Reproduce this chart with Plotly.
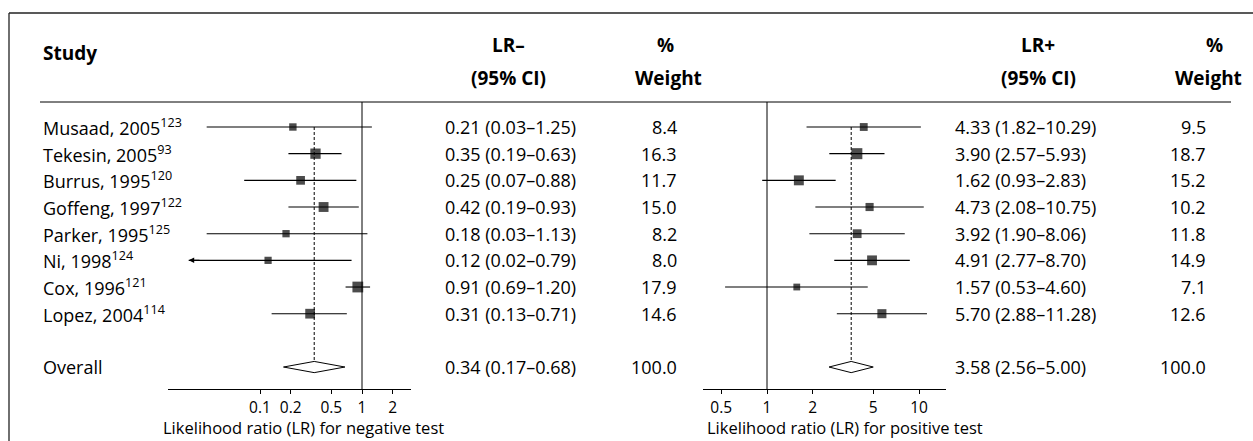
import math
import plotly.graph_objects as go

W, H = 1253, 441

studies = ["Musaad, 2005<sup>123</sup>", "Tekesin, 2005<sup>93</sup>", "Burrus, 1995<sup>120</sup>",
           "Goffeng, 1997<sup>122</sup>", "Parker, 1995<sup>125</sup>", "Ni, 1998<sup>124</sup>",
           "Cox, 1996<sup>121</sup>", "Lopez, 2004<sup>114</sup>"]
overall_label = "Overall"

lrn_est = [0.21, 0.35, 0.25, 0.42, 0.18, 0.12, 0.91, 0.31]
lrn_lo = [0.03, 0.19, 0.07, 0.19, 0.03, 0.02, 0.69, 0.13]
lrn_hi = [1.25, 0.63, 0.88, 0.93, 1.13, 0.79, 1.20, 0.71]
lrn_w = [8.4, 16.3, 11.7, 15.0, 8.2, 8.0, 17.9, 14.6]
lrn_overall = (0.34, 0.17, 0.68, 100.0)

lrp_est = [4.33, 3.90, 1.62, 4.73, 3.92, 4.91, 1.57, 5.70]
lrp_lo = [1.82, 2.57, 0.93, 2.08, 1.90, 2.77, 0.53, 2.88]
lrp_hi = [10.29, 5.93, 2.83, 10.75, 8.06, 8.70, 4.60, 11.28]
lrp_w = [9.5, 18.7, 15.2, 10.2, 11.8, 14.9, 7.1, 12.6]
lrp_overall = (3.58, 2.56, 5.00, 100.0)

neg_ticks = [0.1, 0.2, 0.5, 1, 2]
neg_ticktext = ["0.1", "0.2", "0.5", "1", "2"]
pos_ticks = [0.5, 1, 2, 5, 10]
pos_ticktext = ["0.5", "1", "2", "5", "10"]

FONT = "Open Sans"
FS = 18
FS_HEAD = 19
FS_TICK = 15.5
FS_AX = 16.5

def px(x):
    return x / W

def py(y):
    return 1 - y / H

rows = list(range(len(studies)))
overall_row = len(studies) + 1

fig = go.Figure()

def add_panel(est, lo, hi, wts, overall, xa, ya):
    xs, ys = [], []
    for i, (l, h) in enumerate(zip(lo, hi)):
        xs += [l, h, None]
        ys += [i, i, None]
    fig.add_trace(go.Scatter(x=xs, y=ys, mode="lines", line=dict(color="black", width=1.1),
                             xaxis=xa, yaxis=ya, showlegend=False, hoverinfo="skip"))
    fig.add_trace(go.Scatter(x=[overall[0], overall[0]], y=[0, overall_row + 0.21], mode="lines",
                             line=dict(color="black", width=1, dash="3px,2px"),
                             xaxis=xa, yaxis=ya, showlegend=False, hoverinfo="skip"))
    fig.add_trace(go.Scatter(x=est, y=rows, mode="markers",
                             marker=dict(symbol="square", color="black",
                                         size=[2.55 * math.sqrt(w) for w in wts], line=dict(width=0)),
                             xaxis=xa, yaxis=ya, showlegend=False, hoverinfo="skip"))
    e, l, h, _ = overall
    d = 0.21
    fig.add_trace(go.Scatter(x=[l, e, h, e, l], y=[overall_row, overall_row - d, overall_row, overall_row + d, overall_row],
                             mode="lines", fill="toself", fillcolor="white",
                             line=dict(color="black", width=1),
                             xaxis=xa, yaxis=ya, showlegend=False, hoverinfo="skip"))

add_panel(lrn_est, lrn_lo, lrn_hi, lrn_w, lrn_overall, "x", "y")
add_panel(lrp_est, lrp_lo, lrp_hi, lrp_w, lrp_overall, "x2", "y2")

ydom = [py(389), py(102)]
yrange = [(389 - 127) / 26.67, (102 - 127) / 26.67]

axis_common = dict(type="log", showgrid=False, zeroline=False, showline=True, linecolor="black",
                   linewidth=1, ticks="outside", ticklen=4, tickcolor="black", tickwidth=1,
                   tickfont=dict(family=FONT, size=FS_TICK, color="black"), fixedrange=True)

fig.update_layout(
    width=W, height=H, margin=dict(l=0, r=0, t=0, b=0),
    paper_bgcolor="white", plot_bgcolor="rgba(0,0,0,0)",
    xaxis=dict(domain=[px(168), px(411)], range=[(168 - 362) / 102, (411 - 362) / 102],
               tickvals=neg_ticks, ticktext=neg_ticktext, anchor="y", **axis_common),
    yaxis=dict(domain=ydom, range=yrange, visible=False, anchor="x"),
    xaxis2=dict(domain=[px(703), px(946)], range=[(703 - 767) / 152, (946 - 767) / 152],
                tickvals=pos_ticks, ticktext=pos_ticktext, anchor="y2", **axis_common),
    yaxis2=dict(domain=ydom, range=yrange, visible=False, anchor="x2"),
)

shapes = []
shapes.append(dict(type="line", xref="paper", yref="paper", x0=px(9), x1=1, y0=py(13), y1=py(13),
                   line=dict(color="#222", width=1.3)))
shapes.append(dict(type="line", xref="paper", yref="paper", x0=px(9), x1=px(9), y0=0, y1=py(13),
                   line=dict(color="#222", width=1.3)))
shapes.append(dict(type="line", xref="paper", yref="paper", x0=px(40), x1=px(1231), y0=py(102), y1=py(102),
                   line=dict(color="black", width=1)))
shapes.append(dict(type="line", xref="x", yref="y domain", x0=1, x1=1, y0=0, y1=1,
                   line=dict(color="black", width=1)))
shapes.append(dict(type="line", xref="x2", yref="y2 domain", x0=1, x1=1, y0=0, y1=1,
                   line=dict(color="black", width=1)))
fig.update_layout(shapes=shapes)

ann = []
def txt(x, y, s, anchor="left", bold=False, yref="paper", size=FS, yanchor="middle"):
    ann.append(dict(x=x, y=y, xref="paper", yref=yref, text=s, showarrow=False,
                    xanchor=anchor, yanchor=yanchor,
                    font=dict(family=FONT, size=size, color="black", weight="bold" if bold else "normal")))

txt(px(41), py(53), "Study", bold=True, size=FS_HEAD)
txt(px(508), py(45), "LR–", "center", True, size=FS_HEAD)
txt(px(508), py(78), "(95% CI)", "center", True, size=FS_HEAD)
txt(px(666), py(45), "%", "center", True, size=FS_HEAD)
txt(px(668), py(78), "Weight", "center", True, size=FS_HEAD)
txt(px(1038), py(45), "LR+", "center", True, size=FS_HEAD)
txt(px(1038), py(78), "(95% CI)", "center", True, size=FS_HEAD)
txt(px(1214), py(45), "%", "center", True, size=FS_HEAD)
txt(px(1208), py(78), "Weight", "center", True, size=FS_HEAD)

for i, name in enumerate(studies):
    txt(px(41), i, name, yref="y")
    txt(px(443), i, f"{lrn_est[i]:.2f} ({lrn_lo[i]:.2f}–{lrn_hi[i]:.2f})", yref="y")
    txt(px(679), i, f"{lrn_w[i]:.1f}", "right", yref="y")
    txt(px(953), i, f"{lrp_est[i]:.2f} ({lrp_lo[i]:.2f}–{lrp_hi[i]:.2f})", yref="y")
    txt(px(1208), i, f"{lrp_w[i]:.1f}", "right", yref="y")

txt(px(41), overall_row, overall_label, yref="y")
e, l, h, w = lrn_overall
txt(px(443), overall_row, f"{e:.2f} ({l:.2f}–{h:.2f})", yref="y")
txt(px(679), overall_row, f"{w:.1f}", "right", yref="y")
e, l, h, w = lrp_overall
txt(px(953), overall_row, f"{e:.2f} ({l:.2f}–{h:.2f})", yref="y")
txt(px(1208), overall_row, f"{w:.1f}", "right", yref="y")

txt(px(303), 0.0, "Likelihood ratio (LR) for negative test", "center", size=FS_AX, yanchor="bottom")
txt(px(845), 0.0, "Likelihood ratio (LR) for positive test", "center", size=FS_AX, yanchor="bottom")

ni = 5
ann.append(dict(x=math.log10(lrn_lo[ni]), y=ni, ax=math.log10(lrn_lo[ni]) + 0.12, ay=ni,
                xref="x", yref="y", axref="x", ayref="y", text="", showarrow=True,
                arrowhead=2, arrowsize=1, arrowwidth=1.1, arrowcolor="black", standoff=0))

fig.update_layout(annotations=ann)

fig.write_html("out.html")
